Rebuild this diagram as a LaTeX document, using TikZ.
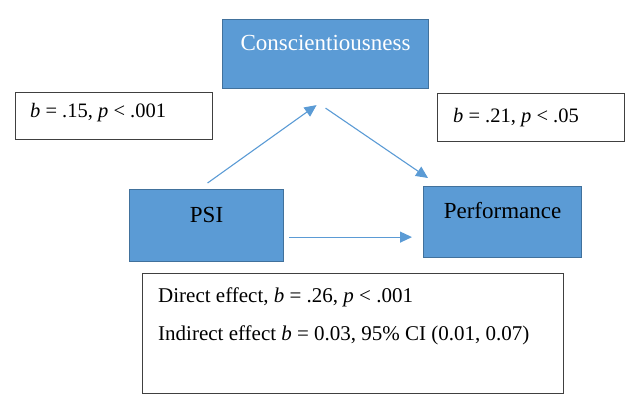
\documentclass[tikz,border=0pt]{standalone}
\usepackage{fontspec}
\setmainfont{Liberation Serif}
\usetikzlibrary{arrows.meta,calc}
\definecolor{boxblue}{HTML}{5B9BD5}
\definecolor{boxedge}{HTML}{41719C}
\definecolor{arrowblue}{HTML}{5B9BD5}
\definecolor{labeledge}{HTML}{404040}
\tikzset{
  varbox/.style={draw=boxedge, fill=boxblue, line width=1.1pt, inner sep=0pt,
    font=\fontsize{23}{27}\selectfont, anchor=north west},
  labelbox/.style={draw=labeledge, line width=1pt, fill=white, inner sep=0pt},
  labeltext/.style={font=\fontsize{20.5}{24}\selectfont, anchor=base west, inner sep=0pt},
  effecttext/.style={font=\fontsize{21}{25}\selectfont, anchor=base west, inner sep=0pt},
  path arrow/.style={draw=arrowblue, line width=1.1pt, -{Triangle[length=12pt,width=11pt]}}
}
\begin{document}
\begin{tikzpicture}[x=1pt,y=-1pt]
\useasboundingbox (0,0) rectangle (640,413);
% variable boxes
\node[varbox, text=white, minimum width=206pt, text height=31pt, text depth=38pt] (consc) at (222,19) {Conscientiousness};
\node[varbox, minimum width=154pt, text height=33pt, text depth=39pt] (psi) at (129,189) {PSI};
\node[varbox, minimum width=158pt, text height=32pt, text depth=39pt] (perf) at (423,186) {Performance};
% coefficient boxes
\node[labelbox, minimum width=197pt, minimum height=47pt, anchor=north west] (lbox) at (15,92) {};
\node[labeltext] (ltext) at (30,117) {\textit{b} = .15, \textit{p} < .001};
\node[labelbox, minimum width=187pt, minimum height=48pt, anchor=north west] (rbox) at (437,93) {};
\node[labeltext] (rtext) at (453,122) {\textit{b} = .21, \textit{p} < .05};
\node[labelbox, minimum width=421pt, minimum height=120pt, anchor=north west] (bbox) at (142,273) {};
\node[effecttext] (direct) at (158,302) {Direct effect, \textit{b} = .26, \textit{p} < .001};
\node[effecttext] (indirect) at (158,340) {Indirect effect \textit{b} = 0.03, 95\% CI (0.01, 0.07)};
% arrow end points
\coordinate (a1s) at ($(psi.north)+(1,-6)$);
\coordinate (a1e) at ($(consc.south)+(-9,16)$);
\coordinate (a2s) at ($(consc.south)+(0,19)$);
\coordinate (a2e) at ($(perf.north west)+(5,-8)$);
\coordinate (a3s) at ($(psi.south east)+(5,-25)$);
\coordinate (a3e) at ($(perf.south west)+(-11,-21)$);
\draw[path arrow] (a1s) -- (a1e);
\draw[path arrow] (a2s) -- (a2e);
\draw[path arrow] (a3s) -- (a3e);
\end{tikzpicture}
\end{document}
